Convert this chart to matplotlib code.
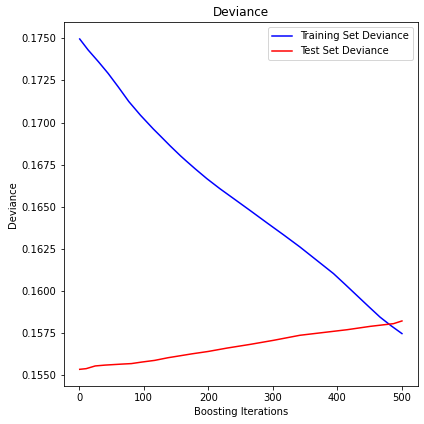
import matplotlib
matplotlib.use("Agg")
import matplotlib.pyplot as plt

# valores
iter_train = [1, 14, 30, 45, 61, 77, 95, 115, 126, 141, 157, 166, 180, 198,
              218, 239, 265, 291, 317, 342, 368, 394, 412, 430, 448, 466,
              483, 500]
train_dev = [0.17496, 0.17431, 0.17361, 0.17292, 0.17210, 0.17125, 0.17044,
             0.16962, 0.16920, 0.16862, 0.16803, 0.16772, 0.16725, 0.16667,
             0.16608, 0.16550, 0.16478, 0.16405, 0.16333, 0.16262, 0.16183,
             0.16104, 0.16040, 0.15975, 0.15910, 0.15846, 0.15795, 0.15748]

iter_test = [1, 11, 25, 40, 66, 81, 97, 117, 138, 151, 175, 200, 229, 265,
             301, 342, 384, 415, 451, 487, 500]
test_dev = [0.15536, 0.15540, 0.15556, 0.15561, 0.15567, 0.15570, 0.15579,
            0.15589, 0.15605, 0.15613, 0.15628, 0.15642, 0.15662, 0.15684,
            0.15708, 0.15738, 0.15757, 0.15771, 0.15791, 0.15807, 0.15823]

fig = plt.figure(figsize=(424 / 72, 424 / 72), dpi=72)
ax = fig.add_subplot(1, 1, 1)
ax.set_title("Deviance")
ax.plot(iter_train, train_dev, "b-", label="Training Set Deviance")
ax.plot(iter_test, test_dev, "r-", label="Test Set Deviance")
ax.legend(loc="upper right")
ax.set_xlabel("Boosting Iterations")
ax.set_ylabel("Deviance")
# posicion de los ejes medida en la imagen original
fig.subplots_adjust(left=0.150, right=0.986, top=0.947, bottom=0.090)

fig.savefig("out.png", dpi=72)
